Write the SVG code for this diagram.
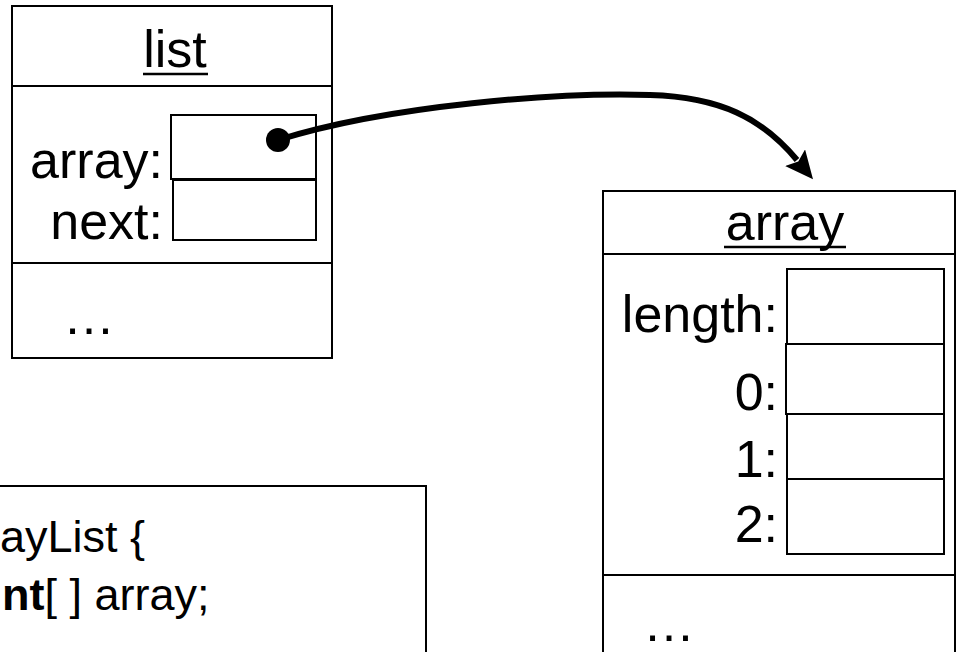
<svg xmlns="http://www.w3.org/2000/svg" width="962" height="652" viewBox="0 0 962 652">
<style>
  text { font-family: "Liberation Sans", Arial, sans-serif; fill: #000; }
  .lbl { font-size: 52px; }
  .end { text-anchor: end; }
  .mid { text-anchor: middle; }
  .code { font-size: 45px; }
  .box { fill: #fff; stroke: #000; stroke-width: 2; }
  .cell { fill: none; stroke: #000; stroke-width: 2; }
  .rule { stroke: #000; stroke-width: 2; }
  .ul { stroke: #000; stroke-width: 2.5; }
</style>
<defs>
  <marker id="head" markerUnits="userSpaceOnUse" markerWidth="30" markerHeight="26" viewBox="0 0 30 26" refX="3" refY="13" orient="auto">
    <path d="M0,0 L28,13 L0,26 L5,13 z" fill="#000"/>
  </marker>
</defs>
<rect width="962" height="652" fill="#fff"/>

<g id="list">
  <rect class="box" x="12" y="6" width="320" height="352"/>
  <line class="rule" x1="12" y1="86" x2="332" y2="86"/>
  <line class="rule" x1="12" y1="263" x2="332" y2="263"/>
  <text class="lbl mid" x="175" y="67">list</text>
  <line class="ul" x1="143" y1="74" x2="208" y2="74"/>
  <text class="lbl end" x="163" y="178">array:</text>
  <rect class="cell" x="171" y="115" width="145" height="64"/>
  <text class="lbl end" x="163" y="239">next:</text>
  <rect class="cell" x="173" y="180" width="143" height="60"/>
  <text class="lbl" x="63" y="334">…</text>
</g>

<g id="array">
  <rect class="box" x="603" y="191" width="352" height="480"/>
  <line class="rule" x1="603" y1="254" x2="955" y2="254"/>
  <line class="rule" x1="603" y1="575" x2="955" y2="575"/>
  <text class="lbl mid" x="785" y="240">array</text>
  <line class="ul" x1="724" y1="247" x2="846" y2="247"/>
  <text class="lbl end" x="778" y="332">length:</text>
  <rect class="cell" x="787" y="269" width="157" height="75"/>
  <text class="lbl end" x="778" y="410">0:</text>
  <rect class="cell" x="786" y="344" width="158" height="70"/>
  <text class="lbl end" x="778" y="477">1:</text>
  <rect class="cell" x="787" y="414" width="157" height="65"/>
  <text class="lbl end" x="778" y="542">2:</text>
  <rect class="cell" x="787" y="479" width="157" height="75"/>
  <text class="lbl" x="643" y="641">…</text>
</g>

<g id="code">
  <rect class="box" x="-10" y="486" width="436" height="200"/>
  <text class="code" x="0" y="552">ayList {</text>
  <text class="code" x="2" y="610"><tspan font-weight="bold">nt</tspan>[ ] array;</text>
</g>

<g id="connectors">
  <path d="M278,140 C390,105 560,92 650,95 C720,97 762,118 797,160" fill="none" stroke="#000" stroke-width="6" marker-end="url(#head)"/>
  <circle cx="278" cy="140" r="12" fill="#000"/>
</g>
</svg>
